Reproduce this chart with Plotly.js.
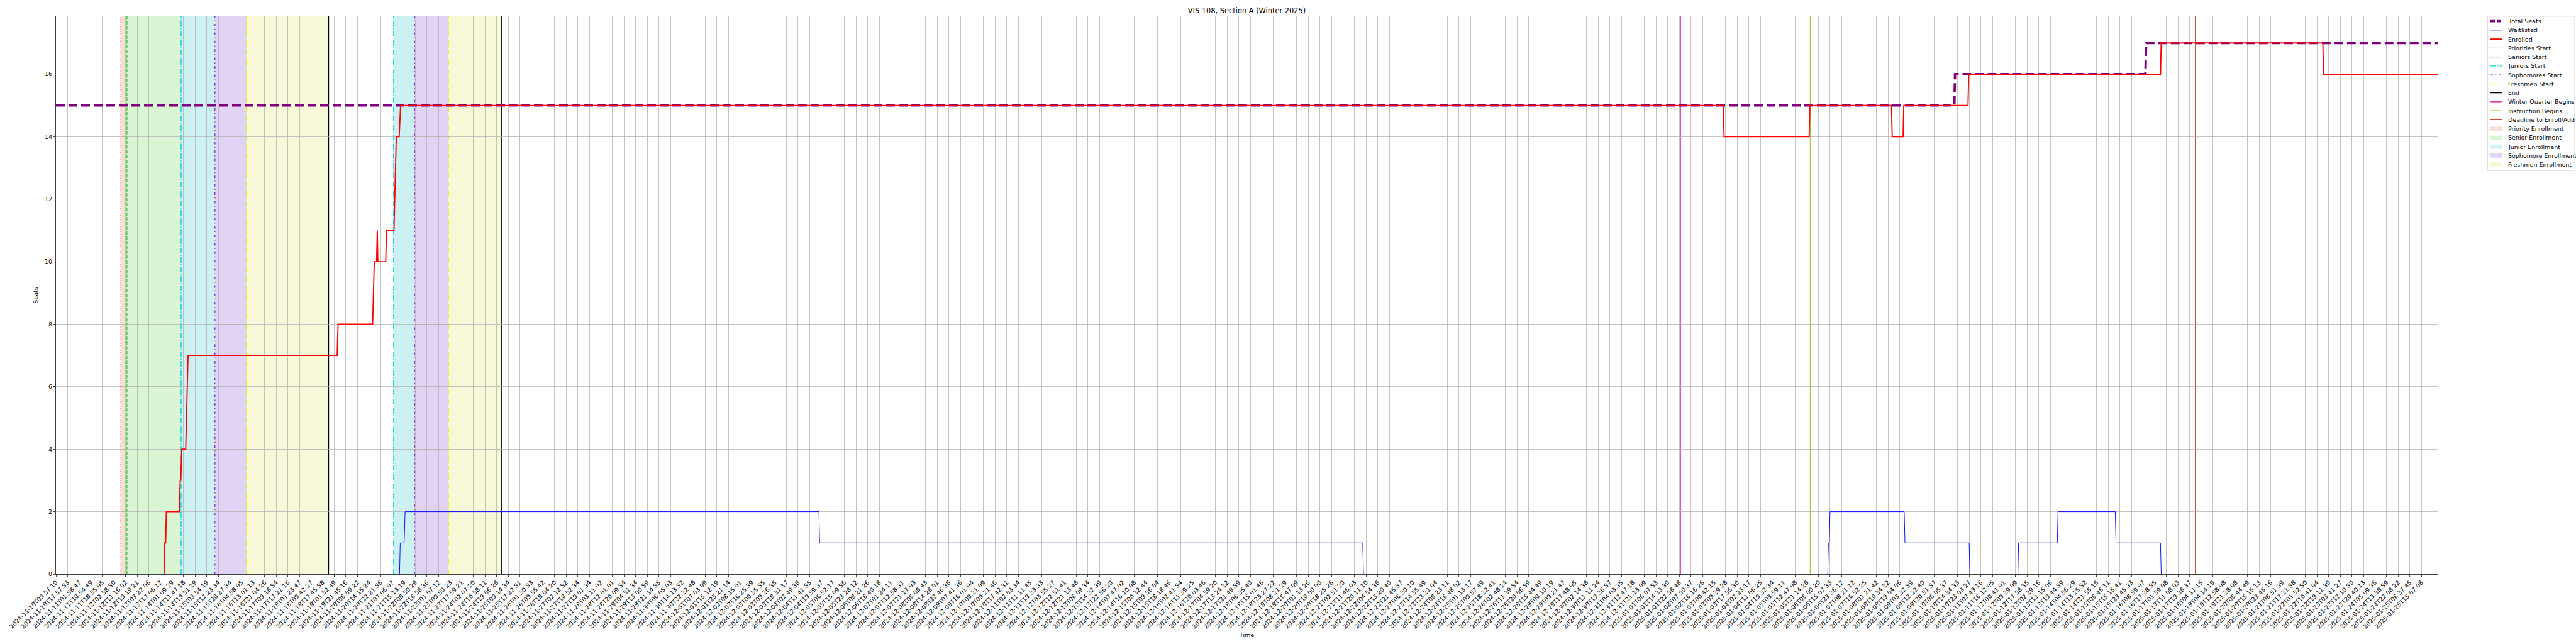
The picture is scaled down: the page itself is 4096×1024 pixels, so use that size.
<!DOCTYPE html>
<html><head><meta charset="utf-8">
<script src="https://cdn.plot.ly/plotly-3.0.1.min.js"></script>
<style>html,body{margin:0;padding:0;background:#fff;} #chart{width:4096px;height:1024px;}</style>
</head><body><div id="chart"></div>
<script>
// ---- tick labels (x axis is sample-index based; one label per tick) ----
const tickLabels = [
"2024-11-10T09:57:10","2024-11-10T17:57:53","2024-11-11T01:58:47","2024-11-11T10:54:49","2024-11-11T18:55:05",
"2024-11-12T02:58:50","2024-11-12T11:16:02","2024-11-12T19:19:21","2024-11-13T03:22:06","2024-11-13T17:06:12",
"2024-11-14T01:09:29","2024-11-14T11:47:18","2024-11-14T19:51:29","2024-11-15T03:54:19","2024-11-15T12:23:34",
"2024-11-15T20:27:34","2024-11-16T04:58:05","2024-11-16T13:01:13","2024-11-16T21:04:26","2024-11-17T09:18:54",
"2024-11-17T17:21:16","2024-11-18T01:23:47","2024-11-18T09:42:27","2024-11-18T17:45:58","2024-11-19T01:52:49",
"2024-11-19T21:45:16","2024-11-20T06:09:22","2024-11-20T14:15:24","2024-11-20T22:21:56","2024-11-21T07:06:07",
"2024-11-21T15:13:19","2024-11-22T08:50:29","2024-11-22T16:58:36","2024-11-23T01:07:12","2024-11-23T09:50:23",
"2024-11-23T17:59:21","2024-11-24T02:07:20","2024-11-24T10:58:11","2024-11-24T19:06:28","2024-11-25T09:14:34",
"2024-11-25T17:22:51","2024-11-26T01:30:53","2024-11-26T09:55:42","2024-11-26T18:04:20","2024-11-27T02:12:52",
"2024-11-27T10:52:34","2024-11-27T19:01:34","2024-11-28T03:11:02","2024-11-28T12:01:01","2024-11-28T20:09:54",
"2024-11-29T04:51:34","2024-11-29T13:00:59","2024-11-29T21:14:55","2024-11-30T06:05:03","2024-11-30T14:13:52",
"2024-11-30T22:22:48","2024-12-01T07:03:09","2024-12-01T15:12:19","2024-12-01T23:21:14","2024-12-02T08:15:01",
"2024-12-02T16:25:39","2024-12-03T00:35:55","2024-12-03T09:26:35","2024-12-03T18:31:17","2024-12-04T02:49:38",
"2024-12-04T11:41:55","2024-12-04T19:59:37","2024-12-05T06:52:17","2024-12-05T15:09:56","2024-12-05T23:28:12",
"2024-12-06T08:21:26","2024-12-06T16:40:18","2024-12-07T01:24:11","2024-12-07T12:58:31","2024-12-07T21:17:03",
"2024-12-08T06:08:43","2024-12-08T14:28:01","2024-12-08T22:46:38","2024-12-09T07:41:36","2024-12-09T16:01:04",
"2024-12-10T00:21:09","2024-12-10T09:21:46","2024-12-10T17:42:31","2024-12-11T02:03:34","2024-12-11T11:11:45",
"2024-12-11T19:33:33","2024-12-12T03:55:27","2024-12-12T12:51:41","2024-12-12T21:13:48","2024-12-13T06:09:34",
"2024-12-13T14:32:39","2024-12-13T22:56:20","2024-12-14T07:47:02","2024-12-14T16:10:08","2024-12-15T00:32:44",
"2024-12-15T09:56:04","2024-12-15T18:18:46","2024-12-16T02:41:54","2024-12-16T11:39:25","2024-12-16T20:03:46",
"2024-12-17T04:59:20","2024-12-17T13:24:22","2024-12-17T21:49:59","2024-12-18T06:35:40","2024-12-18T15:01:46",
"2024-12-18T23:27:22","2024-12-19T08:21:29","2024-12-19T16:47:09","2024-12-20T01:13:26","2024-12-20T10:00:00",
"2024-12-20T18:25:26","2024-12-21T02:51:20","2024-12-21T11:46:03","2024-12-21T20:11:10","2024-12-22T04:54:38",
"2024-12-22T13:20:40","2024-12-22T21:45:57","2024-12-23T06:30:10","2024-12-23T14:55:49","2024-12-23T23:21:04",
"2024-12-24T08:23:11","2024-12-24T16:48:02","2024-12-25T01:13:17","2024-12-25T09:57:49","2024-12-25T18:22:41",
"2024-12-26T02:48:24","2024-12-26T11:39:54","2024-12-26T20:06:59","2024-12-28T15:44:49","2024-12-29T00:10:19",
"2024-12-29T09:21:47","2024-12-29T17:48:05","2024-12-30T02:14:38","2024-12-30T11:11:24","2024-12-30T19:36:57",
"2024-12-31T04:03:35","2024-12-31T12:47:18","2024-12-31T21:13:09","2025-01-01T06:07:53","2025-01-01T14:33:30",
"2025-01-01T22:58:48","2025-01-02T07:50:37","2025-01-02T16:16:26","2025-01-03T00:42:15","2025-01-03T09:29:28",
"2025-01-03T17:56:30","2025-01-04T02:23:17","2025-01-04T11:06:25","2025-01-04T19:32:34","2025-01-05T03:59:11",
"2025-01-05T12:47:08","2025-01-05T21:14:28","2025-01-06T06:00:20","2025-01-06T15:07:33","2025-01-06T23:36:12",
"2025-01-07T08:21:12","2025-01-07T16:52:25","2025-01-08T01:21:42","2025-01-08T10:34:22","2025-01-08T19:04:06",
"2025-01-09T03:32:59","2025-01-09T12:22:40","2025-01-09T20:51:57","2025-01-10T06:05:37","2025-01-10T14:34:33",
"2025-01-10T23:03:27","2025-01-11T07:43:16","2025-01-11T16:12:05","2025-01-12T00:41:01","2025-01-12T09:29:09",
"2025-01-12T17:58:35","2025-01-13T02:29:16","2025-01-13T11:15:06","2025-01-13T19:44:59","2025-01-14T04:56:29",
"2025-01-14T13:25:52","2025-01-14T21:55:15","2025-01-15T06:45:11","2025-01-15T15:15:41","2025-01-15T23:45:33",
"2025-01-16T08:59:07","2025-01-16T17:28:55","2025-01-17T01:59:08","2025-01-17T11:08:03","2025-01-17T19:38:37",
"2025-01-18T04:11:15","2025-01-19T04:14:19","2025-01-19T12:58:08","2025-01-19T21:28:08","2025-01-20T06:44:49",
"2025-01-20T15:15:13","2025-01-20T23:45:16","2025-01-21T08:51:39","2025-01-21T17:21:58","2025-01-22T01:52:50",
"2025-01-22T10:41:04","2025-01-22T19:11:30","2025-01-23T03:41:27","2025-01-23T12:10:50","2025-01-23T20:40:13",
"2025-01-24T05:09:36","2025-01-24T13:38:59","2025-01-24T22:08:22","2025-01-25T06:37:45","2025-01-25T15:07:08"
];
const xEnd = 205.4;   // last sample position (in tick units)

// ---- series (x in tick-index units) ----
const totalSeatsX = [0, 163.72, 163.78, 180.20, 180.26, xEnd];
const totalSeatsY = [15, 15, 16, 16, 17, 17];

const waitlistedX = [0, 29.63, 29.69, 30.03, 30.11, 65.80, 65.86, 112.70, 112.76, 152.80, 152.86, 152.94, 153.00, 159.40, 159.46, 165.00, 165.06, 169.20, 169.26, 172.60, 172.66, 177.60, 177.66, 181.50, 181.56, xEnd];
const waitlistedY = [0, 0, 1, 1, 2, 2, 1, 1, 0, 0, 1, 1, 2, 2, 1, 1, 0, 0, 1, 1, 2, 2, 1, 1, 0, 0];

const enrolledX = [0, 9.32, 9.38, 9.46, 9.52, 10.65, 10.71, 10.76, 10.85, 11.19, 11.39, 24.25, 24.33, 27.31, 27.45, 27.65, 27.71, 27.76, 28.44, 28.50, 29.15, 29.35, 29.60, 29.72, 143.80, 143.86, 151.20, 151.26, 158.30, 158.36, 159.30, 159.36, 164.90, 164.96, 181.50, 181.56, 195.50, 195.56, xEnd];
const enrolledY = [0, 0, 1, 1, 2, 2, 3, 3, 4, 4, 7, 7, 8, 8, 10, 10, 11, 10, 10, 11, 11, 14, 14, 15, 15, 14, 14, 15, 15, 14, 14, 15, 15, 16, 16, 17, 17, 16, 16];

// ---- enrollment periods (shaded) ----
const periodNames  = ["Priority Enrollment", "Senior Enrollment", "Junior Enrollment", "Sophomore Enrollment", "Freshmen Enrollment"];
const periodStarts = [[5.59], [6.12], [10.79, 29.12], [13.71, 30.93], [16.42, 33.85]];
const periodEnds   = [[6.12], [10.79], [13.71, 30.93], [16.42, 33.85], [23.51, 38.41]];
const periodColors = ["#f6e0d6", "#d9f5d3", "#cdf1f3", "#e1d3f4", "#f7f8d8"];

// ---- event markers (vertical lines) ----
const eventNames = ["Priorities Start", "Seniors Start", "Juniors Start", "Sophomores Start", "Freshmen Start", "End", "Winter Quarter Begins", "Instruction Begins", "Deadline to Enroll/Add"];
const eventX = [[5.59], [6.12], [10.79, 29.12], [13.71, 30.93], [16.42, 33.85], [23.51, 38.41], [140.1], [151.3], [184.5]];
const eventColors = ["#f2703a", "#32cd32", "#00ced1", "#8a2be2", "#e6e619", "#000000", "#d61a9a", "#9acd32", "#c85028"];
const eventDash = ["1.4px,2.3px", "5.3px,2.3px", "9px,2.3px,1.4px,2.3px", "4px,4px,1.4px,4px", "9px,2.3px,1.4px,2.3px", "solid", "solid", "solid", "solid"];

// ---- geometry ----
const W = 4096, H = 1024;
const ML = 88.7, MT = 26, MR = 220, MB = 111;
const PW = W - ML - MR, PH = H - MT - MB;
const px = x => (x - ML) / PW;
const py = y => 1 - (y - MT) / PH;
const FONT = "DejaVu Sans";

const traces = [
  {x: totalSeatsX, y: totalSeatsY, mode: "lines", name: "Total Seats", line: {color: "#800080", width: 3.8, dash: "14px,6px"}, showlegend: false, hoverinfo: "skip"},
  {x: waitlistedX, y: waitlistedY, mode: "lines", name: "Waitlisted", line: {color: "#0000ff", width: 0.95}, showlegend: false, hoverinfo: "skip"},
  {x: enrolledX, y: enrolledY, mode: "lines", name: "Enrolled", line: {color: "#ff0000", width: 1.9}, showlegend: false, hoverinfo: "skip"}
];

const shapes = [];
periodNames.forEach((n, k) => {
  periodStarts[k].forEach((s, j) => {
    shapes.push({type: "rect", xref: "x", yref: "paper", x0: s, x1: periodEnds[k][j], y0: 0, y1: 1,
      fillcolor: periodColors[k], line: {width: 0}, layer: "below"});
  });
});
eventNames.forEach((n, k) => {
  eventX[k].forEach(v => {
    shapes.push({type: "line", xref: "x", yref: "paper", x0: v, x1: v, y0: 0, y1: 1,
      line: {color: eventColors[k], width: 1.4, dash: eventDash[k]}, layer: "between"});
  });
});

// ---- manual legend (matplotlib style, outside right) ----
const legLeft = 3955.6, legRight = 4094, legTop = 25.9, legBottom = 271.4;
shapes.push({type: "rect", xref: "paper", yref: "paper", x0: px(legLeft), x1: px(legRight), y0: py(legBottom), y1: py(legTop),
  fillcolor: "rgba(255,255,255,0.8)", line: {color: "#cccccc", width: 0.7}, layer: "above"});
const legendEntries = [];
legendEntries.push({name: "Total Seats", kind: "line", color: "#800080", width: 3.8, dash: "7px,3px"});
legendEntries.push({name: "Waitlisted", kind: "line", color: "#0000ff", width: 0.95, dash: "solid"});
legendEntries.push({name: "Enrolled", kind: "line", color: "#ff0000", width: 1.9, dash: "solid"});
eventNames.forEach((n, k) => legendEntries.push({name: n, kind: "line", color: eventColors[k], width: 1.4, dash: eventDash[k]}));
periodNames.forEach((n, k) => legendEntries.push({name: n, kind: "patch", color: periodColors[k]}));

const annotations = [];
const rowY0 = 33.6, rowDy = 14.25, hx0 = 3960, hx1 = 3979, tx = 3986;
legendEntries.forEach((e, k) => {
  const yc = rowY0 + rowDy * k;
  if (e.kind === "line") {
    shapes.push({type: "line", xref: "paper", yref: "paper", x0: px(hx0), x1: px(hx1), y0: py(yc), y1: py(yc),
      line: {color: e.color, width: e.width, dash: e.dash}, layer: "above"});
  } else {
    shapes.push({type: "rect", xref: "paper", yref: "paper", x0: px(hx0), x1: px(hx1), y0: py(yc + 3.3), y1: py(yc - 3.3),
      fillcolor: e.color, line: {width: 0}, layer: "above"});
  }
  annotations.push({xref: "paper", yref: "paper", x: px(tx), y: py(yc), xanchor: "left", yanchor: "middle",
    text: e.name, showarrow: false, font: {family: FONT, size: 9.5, color: "#000"}});
});

const tickVals = tickLabels.map((_, i) => i);

const layout = {
  width: W, height: H,
  margin: {l: ML, r: MR, t: MT, b: MB, pad: 0},
  paper_bgcolor: "#ffffff", plot_bgcolor: "rgba(0,0,0,0)",
  font: {family: FONT, size: 9.5, color: "#000"},
  showlegend: false,
  title: {text: "VIS 108, Section A (Winter 2025)", font: {family: FONT, size: 11.4, color: "#000"},
    xref: "paper", x: 0.5, xanchor: "center", yref: "container", y: 1 - 20.5 / H, yanchor: "bottom"},
  xaxis: {range: [0, xEnd], tickmode: "array", tickvals: tickVals, ticktext: tickLabels, tickangle: -45,
    showgrid: true, gridcolor: "#b0b0b0", gridwidth: 0.75, zeroline: false,
    showline: true, linecolor: "#000", linewidth: 0.75, mirror: true,
    ticks: "outside", ticklen: 3.3, tickwidth: 0.75, tickcolor: "#000",
    tickfont: {family: FONT, size: 9.5, color: "#000"}, automargin: false,
    title: {text: "Time", font: {family: FONT, size: 9.5, color: "#000"}}},
  yaxis: {range: [0, 17.85], tickmode: "array", tickvals: [0, 2, 4, 6, 8, 10, 12, 14, 16],
    showgrid: true, gridcolor: "#b0b0b0", gridwidth: 0.75, zeroline: false,
    showline: true, linecolor: "#000", linewidth: 0.75, mirror: true,
    ticks: "outside", ticklen: 3.3, tickwidth: 0.75, tickcolor: "#000",
    tickfont: {family: FONT, size: 9.5, color: "#000"}, automargin: false,
    title: {text: "Seats", font: {family: FONT, size: 9.5, color: "#000"}}},
  shapes: shapes,
  annotations: annotations
};

Plotly.newPlot("chart", traces, layout, {displayModeBar: false, responsive: false, staticPlot: true});
</script>
</body></html>
